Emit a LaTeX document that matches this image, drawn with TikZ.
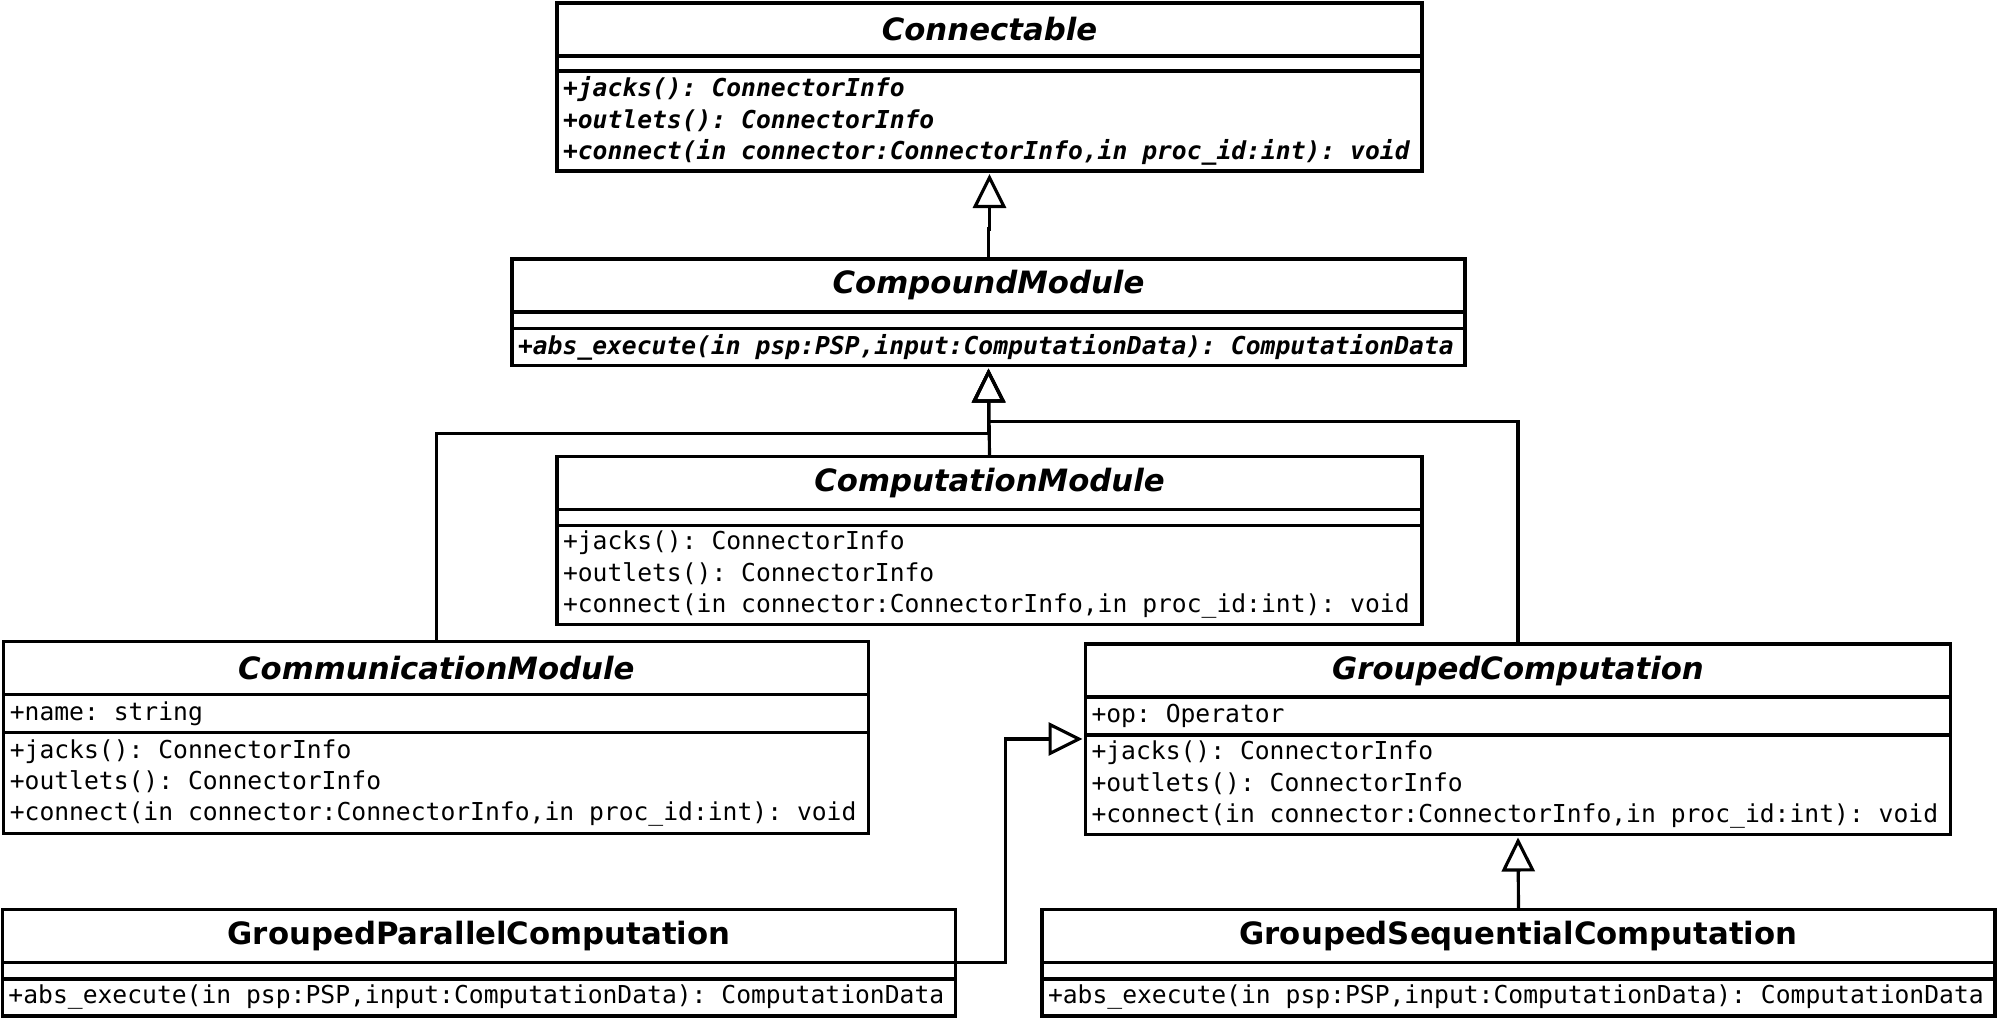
\documentclass[tikz,border=0pt]{standalone}
\usepackage{fontspec}
\usepackage{tikz}
\usetikzlibrary{arrows.meta,positioning}
\newfontfamily\umlsans{DejaVu Sans}
\newfontfamily\umlmono{DejaVu Sans Mono}
\DeclareRobustCommand\umlmonofont{\umlmono\fontsize{7.02}{8.9}\selectfont}
\newcommand\umlsp{\hspace*{0.602em}}
\tikzset{umlbox/.style={draw,line width=0.9pt,outer sep=0pt,inner ysep=0pt,inner xsep=0.6mm},
  narrow/.style={minimum width=86.5mm,text width=85.3mm},
  wide/.style={minimum width=95.3mm,text width=94.1mm},
  classname/.style={umlbox,anchor=north,align=center,minimum height=5.3mm,
    font=\umlsans\bfseries\fontsize{8.75}{10}\selectfont},
  classpart/.style={umlbox,align=left,font=\umlmonofont},
  inherit/.style={line width=0.9pt,shorten >=0.3mm,
    -{Triangle[open,length=3.4mm,width=3.3mm,line width=0.9pt]}}}

\begin{document}
\begin{tikzpicture}
    \useasboundingbox (0,0) rectangle (20,-10.21);

    \node[classname,narrow] (cnt) at (9.895,-0.03) {\itshape Connectable};
    \node[classpart,narrow,below=0pt of cnt,minimum height=1.5mm] (cnt-a) {};
    \node[classpart,narrow,below=0pt of cnt-a,minimum height=10mm] (cnt-m)
      {\bfseries\itshape +jacks():\umlsp ConnectorInfo\\+outlets():\umlsp ConnectorInfo\\
       +connect(in\umlsp connector:ConnectorInfo,in\umlsp proc\_id:int):\umlsp void};

    \node[classname,wide] (cpd) at (9.885,-2.59) {\itshape CompoundModule};
    \node[classpart,wide,below=0pt of cpd,minimum height=1.65mm] (cpd-a) {};
    \node[classpart,wide,below=0pt of cpd-a,minimum height=3.7mm] (cpd-m)
      {\bfseries\itshape +abs\_execute(in\umlsp psp:PSP,input:ComputationData):\umlsp ComputationData};

    \node[classname,narrow] (cmp) at (9.895,-4.566) {\itshape ComputationModule};
    \node[classpart,narrow,below=0pt of cmp,minimum height=1.55mm] (cmp-a) {};
    \node[classpart,narrow,below=0pt of cmp-a,minimum height=9.9mm] (cmp-m)
      {+jacks():\umlsp ConnectorInfo\\+outlets():\umlsp ConnectorInfo\\
       +connect(in\umlsp connector:ConnectorInfo,in\umlsp proc\_id:int):\umlsp void};

    \node[classname,narrow] (cmm) at (4.363,-6.416) {\itshape CommunicationModule};
    \node[classpart,narrow,below=0pt of cmm,minimum height=3.8mm] (cmm-a) {+name:\umlsp string};
    \node[classpart,narrow,below=0pt of cmm-a,minimum height=10.1mm] (cmm-m)
      {+jacks():\umlsp ConnectorInfo\\+outlets():\umlsp ConnectorInfo\\
       +connect(in\umlsp connector:ConnectorInfo,in\umlsp proc\_id:int):\umlsp void};

    \node[classname,narrow] (gc) at (15.18,-6.44) {\itshape GroupedComputation};
    \node[classpart,narrow,below=0pt of gc,minimum height=3.8mm] (gc-a) {+op:\umlsp Operator};
    \node[classpart,narrow,below=0pt of gc-a,minimum height=9.95mm] (gc-m)
      {+jacks():\umlsp ConnectorInfo\\+outlets():\umlsp ConnectorInfo\\
       +connect(in\umlsp connector:ConnectorInfo,in\umlsp proc\_id:int):\umlsp void};

    \node[classname,wide] (gpc) at (4.79,-9.095) {GroupedParallelComputation};
    \node[classpart,wide,below=0pt of gpc,minimum height=1.65mm] (gpc-a) {};
    \node[classpart,wide,below=0pt of gpc-a,minimum height=3.7mm] (gpc-m)
      {+abs\_execute(in\umlsp psp:PSP,input:ComputationData):\umlsp ComputationData};

    \node[classname,wide] (gsc) at (15.185,-9.095) {GroupedSequentialComputation};
    \node[classpart,wide,below=0pt of gsc,minimum height=1.65mm] (gsc-a) {};
    \node[classpart,wide,below=0pt of gsc-a,minimum height=3.7mm] (gsc-m)
      {+abs\_execute(in\umlsp psp:PSP,input:ComputationData):\umlsp ComputationData};

    \draw[inherit] (cpd.north) -- ++(0,0.3) -| (cnt-m.south);
    \draw[inherit] (cmp.north) -- (cpd-m.south);
    \draw[inherit] (cmm.north) |- ([yshift=-6.8mm]cpd-m.south) -- (cpd-m.south);
    \draw[inherit] (gc.north) |- ([yshift=-5.6mm]cpd-m.south) -- (cpd-m.south);
    \draw[inherit] (gpc.south east) -- ++(0.5,0) |- ([yshift=-0.4mm]gc-m.north west);
    \draw[inherit] (gsc.north) -- (gc-m.south);
\end{tikzpicture}
\end{document}
